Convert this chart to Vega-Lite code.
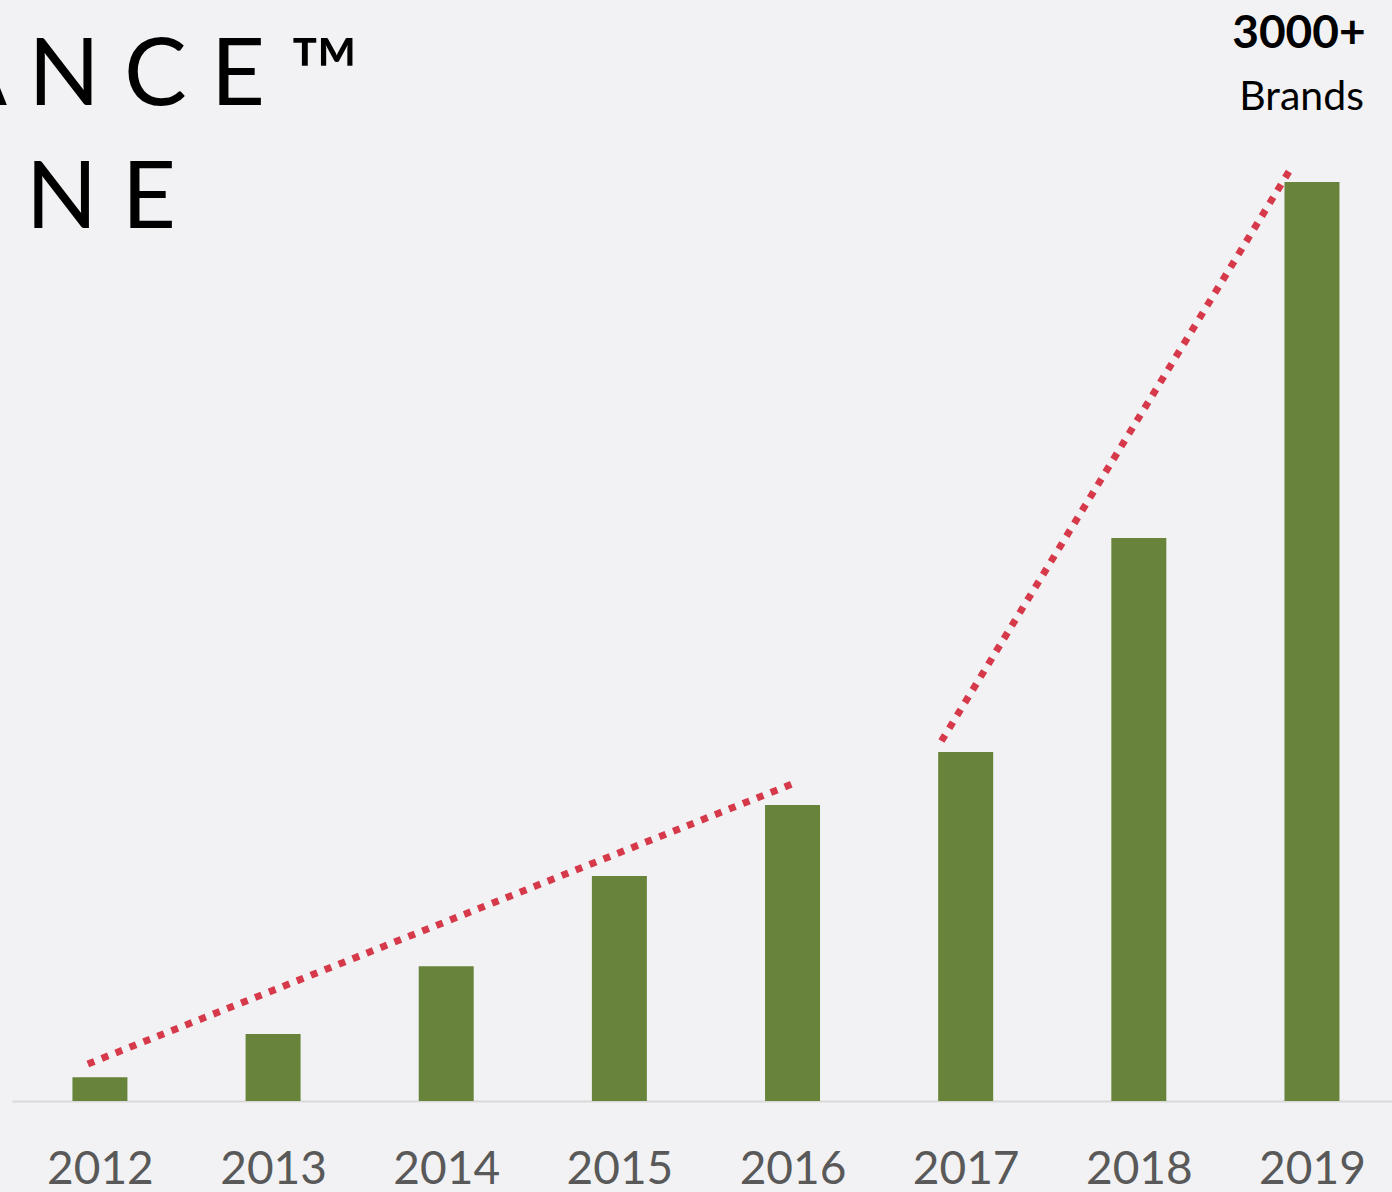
{
  "$schema": "https://vega.github.io/schema/vega-lite/v6.json",
  "width": 1386,
  "height": 1101,
  "autosize": {"type": "none"},
  "padding": {"left": 12, "top": 0, "right": 0, "bottom": 91},
  "background": "#f2f2f4",
  "config": {"view": {"stroke": null}},
  "layer": [
    {
      "data": {"values": [
        {"year": 2012, "brands": 78},
        {"year": 2013, "brands": 219},
        {"year": 2014, "brands": 441},
        {"year": 2015, "brands": 736},
        {"year": 2016, "brands": 968},
        {"year": 2017, "brands": 1141},
        {"year": 2018, "brands": 1841},
        {"year": 2019, "brands": 3005}
      ]},
      "mark": {"type": "bar", "size": 55, "color": "#68843a"},
      "encoding": {
        "x": {
          "field": "year", "type": "quantitative",
          "scale": {"domain": [2011.521, 2019.468], "nice": false, "zero": false},
          "axis": {
            "values": [2012, 2013, 2014, 2015, 2016, 2017, 2018, 2019],
            "format": "d",
            "title": null,
            "grid": false,
            "ticks": false,
            "labelFlush": false,
            "labelOverlap": false,
            "labelFont": "Lato",
            "labelFontSize": 46,
            "labelColor": "#595959",
            "labelPadding": 46,
            "labelBaseline": "top",
            "domainColor": "#d9d9d9",
            "domainWidth": 2
          }
        },
        "y": {
          "field": "brands", "type": "quantitative",
          "scale": {"domain": [0, 3600], "nice": false},
          "axis": null
        }
      }
    },
    {
      "data": {"values": [
        {"segment": "2012-2016", "year": 2011.93, "trend": 121},
        {"segment": "2012-2016", "year": 2016.0, "trend": 1037},
        {"segment": "2017-2019", "year": 2016.86, "trend": 1177},
        {"segment": "2017-2019", "year": 2018.88, "trend": 3051}
      ]},
      "mark": {"type": "line", "color": "#d63a4a", "strokeWidth": 7, "strokeDash": [7, 8], "strokeCap": "butt"},
      "encoding": {
        "x": {"field": "year", "type": "quantitative"},
        "y": {"field": "trend", "type": "quantitative"},
        "detail": {"field": "segment"}
      }
    },
    {
      "data": {"values": [
        {"label": "3000+", "year": 2019.31, "v": 3443}
      ]},
      "mark": {"type": "text", "align": "right", "baseline": "alphabetic", "font": "Lato", "fontSize": 46, "fontWeight": "bold", "color": "#000000"},
      "encoding": {
        "x": {"field": "year", "type": "quantitative"},
        "y": {"field": "v", "type": "quantitative"},
        "text": {"field": "label"}
      }
    },
    {
      "data": {"values": [
        {"label": "Brands", "year": 2019.30, "v": 3240}
      ]},
      "mark": {"type": "text", "align": "right", "baseline": "alphabetic", "font": "Lato", "fontSize": 41, "color": "#000000"},
      "encoding": {
        "x": {"field": "year", "type": "quantitative"},
        "y": {"field": "v", "type": "quantitative"},
        "text": {"field": "label"}
      }
    },
    {
      "data": {"values": [
        {"label": "A N C E ™", "year": 2011.097, "v": 3257},
        {"label": "N E", "year": 2011.572, "v": 2855}
      ]},
      "mark": {"type": "text", "align": "left", "baseline": "alphabetic", "font": "Lato", "fontSize": 94, "color": "#000000"},
      "encoding": {
        "x": {"field": "year", "type": "quantitative"},
        "y": {"field": "v", "type": "quantitative"},
        "text": {"field": "label"}
      }
    }
  ]
}
